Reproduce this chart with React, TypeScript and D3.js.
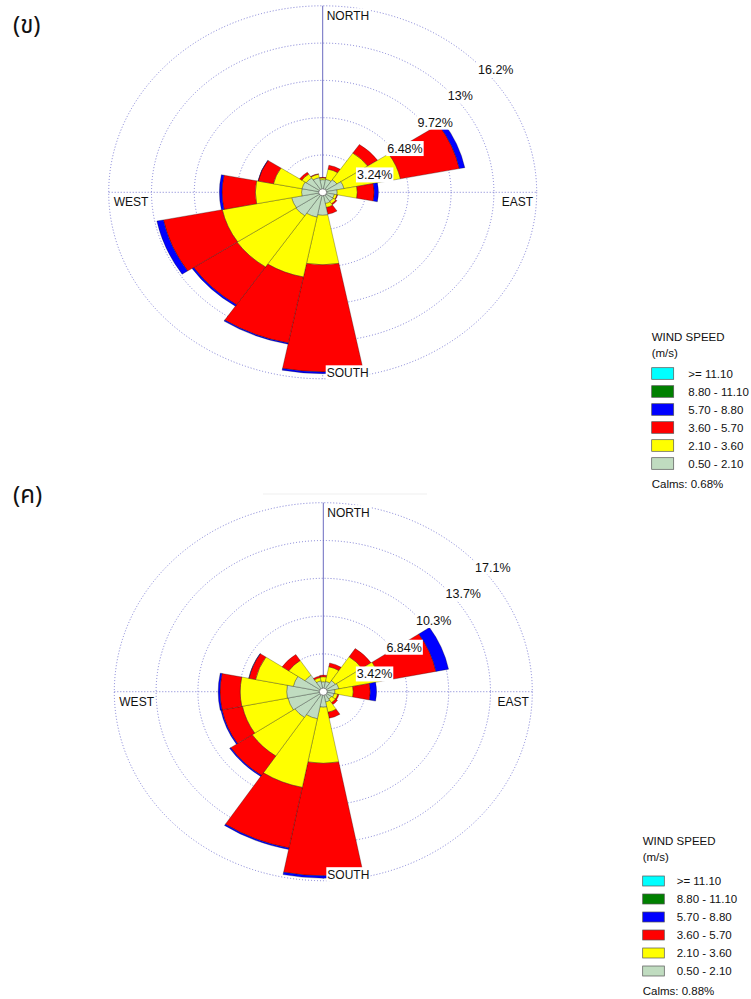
import React from 'react';
import * as d3 from 'd3';

const DIRECTIONS = ['N', 'NNE', 'NE', 'ENE', 'E', 'ESE', 'SE', 'SSE', 'S', 'SSW', 'SW', 'WSW', 'W', 'WNW', 'NW', 'NNW'];

// speed classes from the centre outwards
const SPEED_CLASSES = ['0.50 - 2.10', '2.10 - 3.60', '3.60 - 5.70', '5.70 - 8.80', '8.80 - 11.10', '>= 11.10'];
const SPEED_COLORS = ['#C0DCC0', '#FFFF00', '#FF0000', '#0000FF', '#008000', '#00FFFF'];

// chart (ข) – frequency (%) per direction for each speed class
const KHO_050_210 = [1.1, 1.15, 1.3, 1.65, 1.1, 0.9, 0.95, 1.0, 2.0, 2.2, 2.45, 2.4, 1.6, 1.6, 1.5, 1.3];
const KHO_210_360 = [0.15, 0.9, 2.8, 4.35, 1.52, 0.2, 0.25, 0.35, 4.3, 5.3, 5.35, 5.35, 3.5, 2.2, 0.4, 0.3];
const KHO_360_570 = [0.05, 0.35, 0.9, 4.55, 1.28, 0.05, 0.1, 0.6, 9.3, 5.85, 3.95, 4.55, 2.52, 1.18, 0.2, 0.05];
const KHO_570_880 = [0, 0, 0, 0.42, 0.32, 0, 0, 0, 0.15, 0.1, 0.15, 0.5, 0.2, 0.02, 0, 0];
const KHO_880_1110 = [0, 0, 0, 0, 0, 0, 0, 0, 0, 0, 0, 0, 0, 0, 0, 0];
const KHO_1110_UP = [0, 0, 0, 0, 0, 0, 0, 0, 0, 0, 0, 0, 0, 0, 0, 0];
const KHO_RINGS = [3.24, 6.48, 9.72, 12.96, 16.2];
const KHO_RING_LABELS = ['3.24%', '6.48%', '9.72%', '13%', '16.2%'];
const KHO_CALMS = 'Calms: 0.68%';

// chart (ค)
const KHA_050_210 = [0.9, 0.95, 1.2, 1.3, 0.95, 0.9, 0.8, 0.95, 1.4, 2.5, 2.8, 2.95, 3.0, 2.5, 1.8, 1.0];
const KHA_210_360 = [0.45, 1.35, 2.6, 3.5, 1.5, 0.3, 0.4, 0.95, 5.08, 6.33, 4.2, 3.8, 3.8, 3.15, 1.6, 0.3];
const KHA_360_570 = [0.15, 0.35, 0.9, 4.6, 1.4, 0.1, 0.2, 0.55, 10.18, 5.59, 2.11, 1.7, 1.65, 0.55, 0.65, 0.15];
const KHA_570_880 = [0, 0, 0, 1.05, 0.51, 0, 0, 0, 0.21, 0.13, 0.11, 0.1, 0.15, 0.02, 0, 0];
const KHA_880_1110 = [0, 0, 0, 0, 0, 0, 0, 0, 0, 0, 0, 0, 0, 0, 0, 0];
const KHA_1110_UP = [0, 0, 0, 0, 0, 0, 0, 0, 0, 0, 0, 0, 0, 0, 0, 0];
const KHA_RINGS = [3.42, 6.84, 10.26, 13.68, 17.1];
const KHA_RING_LABELS = ['3.42%', '6.84%', '10.3%', '13.7%', '17.1%'];
const KHA_CALMS = 'Calms: 0.88%';

const FONT = '"Liberation Sans", Arial, sans-serif';
const GRID = '#6f6fcf';

type RoseProps = {
  title: string;
  titleY: number;
  cx: number;
  cy: number;
  rx: number;
  ry: number;
  rings: number[];
  ringLabels: string[];
  bins: number[][];
  legend: { x: number; titleY: number; rowY: number; w: number; h: number; textX: number; calmsY: number };
  calms: string;
};

function labelWidth(s: string, fs: number) {
  let w = 0;
  for (const c of s) {
    if (c === '.') w += 0.278;
    else if (c === '%') w += 0.889;
    else if (/[0-9]/.test(c)) w += 0.556;
    else if (c === 'W') w += 0.944;
    else if (c === 'O') w += 0.778;
    else if (c === 'T') w += 0.611;
    else if (c === 'S' || c === 'E') w += 0.667;
    else w += 0.722;
  }
  return w * fs;
}

function WindRose(p: RoseProps) {
  const r = d3.scaleLinear().domain([0, d3.max(p.rings) as number]).range([0, p.rx]);
  const k = p.ry / p.rx;
  const step = (2 * Math.PI) / DIRECTIONS.length;
  const arc = d3.arc<any>();
  const segs: { d: string; fill: string; key: string }[] = [];
  DIRECTIONS.forEach((dir, i) => {
    let acc = 0;
    p.bins.forEach((bin, j) => {
      const v = bin[i];
      if (!v || v <= 0) return;
      const d = arc({
        innerRadius: r(acc),
        outerRadius: r(acc + v),
        startAngle: i * step - step / 2,
        endAngle: i * step + step / 2,
      }) as string;
      segs.push({ d, fill: SPEED_COLORS[j], key: dir + j });
      acc += v;
    });
  });

  const c45 = Math.SQRT1_2;
  const L = p.legend;
  const legendRows = SPEED_CLASSES.map((s, j) => ({ s, c: SPEED_COLORS[j] })).reverse();
  const compassFs = 12;
  const pctFs = 12.5;

  return (
    <g>
      <text x={13} y={p.titleY} fontSize={24} fontFamily={'"Noto Sans Thai", "Noto Sans", sans-serif'} fill="#111">
        {p.title}
      </text>
      {/* rings */}
      {p.rings.map((v) => (
        <ellipse key={v} cx={p.cx} cy={p.cy} rx={r(v)} ry={r(v) * k} fill="none" stroke={GRID} strokeWidth={0.9} strokeDasharray="1 2" />
      ))}
      <line x1={p.cx - p.rx} x2={p.cx + p.rx} y1={p.cy} y2={p.cy} stroke={GRID} strokeWidth={0.9} strokeDasharray="1 2" />
      <line x1={p.cx} x2={p.cx} y1={p.cy} y2={p.cy + p.ry} stroke={GRID} strokeWidth={0.9} strokeDasharray="1 2" />
      <line x1={p.cx} x2={p.cx} y1={p.cy - p.ry} y2={p.cy} stroke="#5a5ab8" strokeWidth={0.9} />
      {/* bars */}
      <g transform={`translate(${p.cx},${p.cy}) scale(1,${k})`}>
        {segs.map((s) => (
          <path key={s.key} d={s.d} fill={s.fill} stroke="rgba(0,0,0,0.55)" strokeWidth={0.5} vectorEffect="non-scaling-stroke" />
        ))}
        <circle r={4} fill="#fff" stroke="#444" strokeWidth={0.6} vectorEffect="non-scaling-stroke" />
      </g>
      {/* ring labels */}
      {p.rings.map((v, i) => {
        const x = p.cx + r(v) * c45 + 4;
        const y = p.cy - r(v) * k * c45 + 9;
        const w = labelWidth(p.ringLabels[i], pctFs);
        return (
          <g key={'l' + v}>
            <rect x={x - 1} y={y - 7.5} width={w + 2} height={15} fill="#fff" />
            <text x={x} y={y} dy="0.36em" fontSize={pctFs} fontFamily={FONT} fill="#111">
              {p.ringLabels[i]}
            </text>
          </g>
        );
      })}
      {/* compass labels */}
      {[
        { t: 'NORTH', x: p.cx + 4, y: p.cy - p.ry + 9.5, a: 'start' },
        { t: 'SOUTH', x: p.cx + 4, y: p.cy + p.ry - 6.5, a: 'start' },
        { t: 'WEST', x: p.cx - p.rx + 5, y: p.cy + 9.5, a: 'start' },
        { t: 'EAST', x: p.cx + p.rx - 3.5, y: p.cy + 9.5, a: 'end' },
      ].map((c) => {
        const w = labelWidth(c.t, compassFs);
        const x0 = c.a === 'end' ? c.x - w : c.x;
        return (
          <g key={c.t}>
            <rect x={x0 - 1} y={c.y - 7} width={w + 2} height={14} fill="#fff" />
            <text x={c.x} y={c.y} dy="0.36em" textAnchor={c.a as any} fontSize={compassFs} fontFamily={FONT} fill="#111">
              {c.t}
            </text>
          </g>
        );
      })}
      {/* legend */}
      <g fontFamily={FONT} fontSize={11.5} fill="#111">
        <text x={L.x} y={L.titleY} dy="0.36em">WIND SPEED</text>
        <text x={L.x} y={L.titleY + 16.5} dy="0.36em">(m/s)</text>
        {legendRows.map((row, j) => (
          <g key={row.s}>
            <rect x={L.x} y={L.rowY + j * 18} width={L.w} height={L.h} fill={row.c} stroke="#555" strokeWidth={0.7} />
            <text x={L.textX} y={L.rowY + j * 18 + L.h / 2} dy="0.36em">{row.s}</text>
          </g>
        ))}
        <text x={L.x} y={L.calmsY} dy="0.36em">{p.calms}</text>
      </g>
    </g>
  );
}

export default function App() {
  return (
    <svg width={751} height={999} viewBox="0 0 751 999" style={{ position: 'absolute', left: 0, top: 0, background: '#fff' }}>
      <rect width={751} height={999} fill="#fff" />
      <WindRose
        title="(ข)"
        titleY={33}
        cx={322.7}
        cy={192.3}
        rx={214}
        ry={186.5}
        rings={KHO_RINGS}
        ringLabels={KHO_RING_LABELS}
        bins={[KHO_050_210, KHO_210_360, KHO_360_570, KHO_570_880, KHO_880_1110, KHO_1110_UP]}
        legend={{ x: 651.7, titleY: 336.7, rowY: 367.7, w: 22, h: 11.6, textX: 688.3, calmsY: 484 }}
        calms={KHO_CALMS}
      />
      <line x1={263} x2={427} y1={494} y2={494} stroke="#efefef" strokeWidth={1} />
      <WindRose
        title="(ค)"
        titleY={503}
        cx={323.3}
        cy={691.7}
        rx={209}
        ry={189}
        rings={KHA_RINGS}
        ringLabels={KHA_RING_LABELS}
        bins={[KHA_050_210, KHA_210_360, KHA_360_570, KHA_570_880, KHA_880_1110, KHA_1110_UP]}
        legend={{ x: 642.7, titleY: 840.7, rowY: 876, w: 21.6, h: 10, textX: 676.7, calmsY: 990.7 }}
        calms={KHA_CALMS}
      />
    </svg>
  );
}
